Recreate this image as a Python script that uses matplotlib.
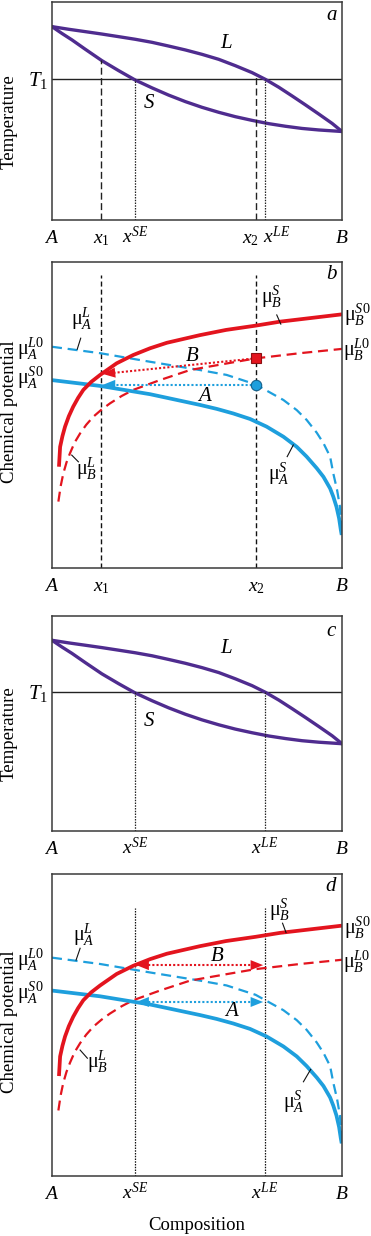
import numpy as np
import matplotlib
matplotlib.use('Agg')
import matplotlib.pyplot as plt

plt.rcParams['font.family'] = ['Liberation Serif', 'DejaVu Serif']
plt.rcParams['mathtext.fontset'] = 'custom'
plt.rcParams['mathtext.rm'] = 'Liberation Serif'
plt.rcParams['mathtext.it'] = 'Liberation Serif:italic'
plt.rcParams['mathtext.bf'] = 'Liberation Serif:bold'

# ---------------- data (normalised composition 0=A .. 1=B) ----------------
liq_x = [0.0, 0.057, 0.115, 0.172, 0.230, 0.287, 0.345, 0.402, 0.460, 0.517, 0.575,
         0.632, 0.690, 0.736, 0.782, 0.828, 0.874, 0.920, 0.966, 1.0]
liq_T = [0.887, 0.875, 0.864, 0.853, 0.841, 0.829, 0.815, 0.798, 0.780, 0.760, 0.737,
         0.708, 0.676, 0.645, 0.609, 0.569, 0.528, 0.486, 0.443, 0.406]
sol_x = [0.0, 0.034, 0.069, 0.115, 0.172, 0.230, 0.287, 0.345, 0.402, 0.460, 0.517,
         0.575, 0.632, 0.690, 0.747, 0.805, 0.862, 0.920, 1.0]
sol_T = [0.887, 0.856, 0.826, 0.783, 0.731, 0.685, 0.642, 0.606, 0.573, 0.543, 0.517,
         0.494, 0.474, 0.457, 0.442, 0.430, 0.420, 0.413, 0.406]
T1 = 0.645

x1, xSE, x2, xLE = 0.170, 0.286, 0.705, 0.733

muBS_x = [0.024, 0.028, 0.036, 0.045, 0.058, 0.073, 0.090, 0.108, 0.135, 0.166, 0.223,
          0.280, 0.338, 0.396, 0.510, 0.600, 0.702, 0.786, 1.0]
muBS_y = [0.331, 0.396, 0.431, 0.462, 0.496, 0.527, 0.556, 0.582, 0.608, 0.631, 0.669,
          0.696, 0.718, 0.736, 0.761, 0.778, 0.792, 0.805, 0.829]
muBL_x = [0.022, 0.030, 0.039, 0.050, 0.062, 0.078, 0.097, 0.118, 0.142, 0.170, 0.200,
          0.240, 0.280, 0.372, 0.476, 0.600, 0.702, 0.855, 1.0]
muBL_y = [0.217, 0.268, 0.309, 0.345, 0.375, 0.410, 0.440, 0.468, 0.494, 0.517, 0.538,
          0.562, 0.582, 0.614, 0.647, 0.668, 0.685, 0.702, 0.716]
muAS_x = [0.0, 0.166, 0.338, 0.510, 0.568, 0.625, 0.683, 0.740, 0.798, 0.844, 0.878,
          0.913, 0.936, 0.959, 0.970, 0.981, 0.990, 0.996, 0.999]
muAS_y = [0.614, 0.595, 0.568, 0.533, 0.520, 0.505, 0.487, 0.462, 0.429, 0.396, 0.364,
          0.326, 0.298, 0.260, 0.233, 0.200, 0.162, 0.124, 0.108]
muAL_x = [0.0, 0.166, 0.338, 0.510, 0.602, 0.702, 0.798, 0.844, 0.878, 0.913, 0.936,
          0.959, 0.970, 0.983, 0.993, 1.0]
muAL_y = [0.723, 0.702, 0.674, 0.647, 0.631, 0.600, 0.549, 0.516, 0.484, 0.442, 0.408,
          0.364, 0.309, 0.255, 0.200, 0.105]

PURPLE = '#4F2C8F'
RED = '#E3141E'
BLUE = '#1E9FDD'
FRAME = '#3a3a3a'

W, H = 371, 1236
fig = plt.figure(figsize=(W / 100, H / 100), dpi=100)


def add_axes(top, bottom):
    ax = fig.add_axes([52 / W, 1 - bottom / H, 290 / W, (bottom - top) / H])
    ax.set_xlim(0, 1)
    ax.set_ylim(0, 1)
    ax.set_xticks([])
    ax.set_yticks([])
    for s in ax.spines.values():
        s.set_color(FRAME)
        s.set_linewidth(1.1)
    return ax


axa = add_axes(2, 220)
axb = add_axes(262, 568)
axc = add_axes(616, 831)
axd = add_axes(874, 1176)

TICKFS = 14
MUFS = 14.5
LETFS = 15


def xlabels(ax, pos, labels, aligns=None, shifts=None):
    for i, (p, l) in enumerate(zip(pos, labels)):
        ha = aligns[i] if aligns else 'center'
        dx = shifts[i] if shifts else 0
        ax.annotate(l, xy=(p, 0), xycoords=('data', 'axes fraction'),
                    xytext=(dx, -16.5), textcoords='offset points',
                    ha=ha, va='baseline', fontsize=TICKFS)


def mu(sub, sup):
    return r'$\mathrm{μ}_{%s}^{%s}$' % (sub, sup)


def tdiagram(ax, dashed, dotted, Lpos, Spos, letter, letpos):
    ax.axhline(T1, color='#222222', lw=1.0)
    ax.plot(liq_x, liq_T, color=PURPLE, lw=2.4, solid_joinstyle='round', solid_capstyle='round')
    ax.plot(sol_x, sol_T, color=PURPLE, lw=2.4, solid_joinstyle='round', solid_capstyle='round')
    for xv, top in dashed:
        ax.plot([xv, xv], [0, top], color='#222222', lw=1.0, dashes=(5, 2.5))
    for xv in dotted:
        ax.plot([xv, xv], [0, T1], color='#222222', lw=0.9, dashes=(1.2, 1.0))
    ax.text(Lpos[0], Lpos[1], r'$L$', fontsize=LETFS, ha='center', va='center')
    ax.text(Spos[0], Spos[1], r'$S$', fontsize=LETFS, ha='center', va='center')
    ax.text(letpos[0], letpos[1], r'$%s$' % letter, fontsize=LETFS, ha='center', va='center')
    ax.annotate(r'$T_1$', xy=(-0.048, T1), xycoords=('axes fraction', 'data'),
                xytext=(0, -4.5), textcoords='offset points',
                ha='center', va='baseline', fontsize=LETFS)
    ax.text(-0.148, 0.452, 'Temperature', rotation=90, fontsize=13.5,
            ha='center', va='center', transform=ax.transAxes)


def arrowhead(ax, tip, frm, color):
    ax.annotate('', xy=tip, xytext=frm,
                arrowprops=dict(arrowstyle='-|>,head_length=0.6,head_width=0.24',
                                color=color, lw=0, shrinkA=0, shrinkB=0,
                                mutation_scale=15))


def mupanel(ax, vlines, vtop, vstyle, labels):
    ax.plot(muAL_x, muAL_y, color=BLUE, lw=1.6, dashes=(4.5, 2.6))
    ax.plot(muBL_x, muBL_y, color=RED, lw=1.6, dashes=(4.5, 2.6))
    ax.plot(muAS_x, muAS_y, color=BLUE, lw=2.7, solid_capstyle='butt', solid_joinstyle='round')
    ax.plot(muBS_x, muBS_y, color=RED, lw=2.7, solid_capstyle='butt', solid_joinstyle='round')
    for xv in vlines:
        if vstyle == 'dash':
            ax.plot([xv, xv], [0, vtop], color='#111111', lw=1.0, dashes=(3.6, 2.2), zorder=1)
        else:
            ax.plot([xv, xv], [0, vtop], color='#111111', lw=0.9, dashes=(1.2, 1.0), zorder=1)
    for (txt, tx, ty, lead) in labels:
        ax.text(tx, ty, txt, fontsize=MUFS, ha='center', va='center')
        if lead is not None:
            ax.plot([lead[0], lead[2]], [lead[1], lead[3]], color='#111111', lw=0.8)
    ax.text(-0.148, 0.51, 'Chemical potential', rotation=90, fontsize=13.5,
            ha='center', va='center', transform=ax.transAxes)


# ---------------- panel a ----------------
tdiagram(axa,
         dashed=[(x1, float(np.interp(x1, sol_x, sol_T))), (x2, float(np.interp(x2, liq_x, liq_T)))],
         dotted=[xSE, xLE], Lpos=(0.603, 0.81), Spos=(0.333, 0.535),
         letter='a', letpos=(0.964, 0.94))
xlabels(axa, [0, x1, xSE, x2, xLE, 1],
        [r'$A$', r'$x_1$', r'$x^{SE}$', r'$x_2$', r'$x^{LE}$', r'$B$'],
        aligns=['center', 'center', 'center', 'right', 'left', 'center'],
        shifts=[0, 0, 0, 1.5, -1.0, 0])

# ---------------- panel b ----------------
L0 = r'L\mathrm{0}'
S0 = r'S\mathrm{0}'
mupanel(axb, [x1, x2], 0.958, 'dash', [
    (mu('A', 'L'), 0.104, 0.816, (0.099, 0.751, 0.087, 0.715)),
    (mu('A', L0), -0.074, 0.718, None),
    (mu('A', S0), -0.074, 0.622, None),
    (mu('B', 'S'), 0.757, 0.887, (0.775, 0.827, 0.789, 0.797)),
    (mu('B', S0), 1.052, 0.829, None),
    (mu('B', L0), 1.052, 0.713, None),
    (mu('B', 'L'), 0.118, 0.326, (0.068, 0.369, 0.091, 0.347)),
    (mu('A', 'S'), 0.782, 0.309, (0.811, 0.364, 0.832, 0.402)),
])
yBL2 = float(np.interp(x2, muBL_x, muBL_y))
yBS1 = float(np.interp(x1, muBS_x, muBS_y))
yAL2 = float(np.interp(x2, muAL_x, muAL_y))
slope = (yBL2 - yBS1) / (x2 - x1)
axb.plot([x2, x1 + 0.03], [yBL2, yBS1 + slope * 0.03], color=RED, lw=1.5, dashes=(1, 1))
arrowhead(axb, (x1 + 0.005, yBS1 + slope * 0.005), (x1 + 0.06, yBS1 + slope * 0.06), RED)
axb.plot([x2, x1 + 0.03], [yAL2, yAL2], color=BLUE, lw=1.5, dashes=(1, 1))
arrowhead(axb, (x1 + 0.005, yAL2), (x1 + 0.06, yAL2), BLUE)
axb.plot([x2], [yAL2], 'o', ms=7.5, mfc=BLUE, mec='#14618c', mew=0.8, zorder=5)
axb.plot([x2], [yBL2], 's', ms=6.5, mfc=RED, mec='#8c0f12', mew=0.8, zorder=5)
axb.text(0.482, 0.690, r'$B$', fontsize=LETFS, ha='center', va='center')
axb.text(0.528, 0.560, r'$A$', fontsize=LETFS, ha='center', va='center')
axb.text(0.964, 0.958, r'$b$', fontsize=LETFS, ha='center', va='center')
xlabels(axb, [0, x1, x2, 1], [r'$A$', r'$x_1$', r'$x_2$', r'$B$'])

# ---------------- panel c ----------------
tdiagram(axc, dashed=[], dotted=[xSE, xLE], Lpos=(0.603, 0.85), Spos=(0.333, 0.508),
         letter='c', letpos=(0.964, 0.93))
xlabels(axc, [0, xSE, xLE, 1], [r'$A$', r'$x^{SE}$', r'$x^{LE}$', r'$B$'])

# ---------------- panel d ----------------
mupanel(axd, [xSE, xLE], 0.887, 'dot', [
    (mu('A', 'L'), 0.110, 0.798, (0.097, 0.754, 0.083, 0.715)),
    (mu('A', L0), -0.074, 0.715, None),
    (mu('A', S0), -0.074, 0.607, None),
    (mu('B', 'S'), 0.786, 0.881, (0.795, 0.837, 0.807, 0.806)),
    (mu('B', S0), 1.052, 0.822, None),
    (mu('B', L0), 1.052, 0.710, None),
    (mu('B', 'L'), 0.156, 0.378, (0.097, 0.417, 0.122, 0.390)),
    (mu('A', 'S'), 0.834, 0.246, (0.867, 0.312, 0.892, 0.353)),
])
yR = float(np.interp(xSE, muBS_x, muBS_y))
yB = float(np.interp(xSE, muAS_x, muAS_y))
for yv, col in [(yR, RED), (yB, BLUE)]:
    axd.plot([xSE + 0.03, xLE - 0.03], [yv, yv], color=col, lw=1.5, dashes=(1, 1))
    arrowhead(axd, (xSE + 0.005, yv), (xSE + 0.06, yv), col)
    arrowhead(axd, (xLE - 0.005, yv), (xLE - 0.06, yv), col)
axd.text(0.568, 0.726, r'$B$', fontsize=LETFS, ha='center', va='center')
axd.text(0.620, 0.545, r'$A$', fontsize=LETFS, ha='center', va='center')
axd.text(0.964, 0.958, r'$d$', fontsize=LETFS, ha='center', va='center')
xlabels(axd, [0, xSE, xLE, 1], [r'$A$', r'$x^{SE}$', r'$x^{LE}$', r'$B$'])

fig.text(196.5 / W, 1 - 1225 / H, 'Composition', fontsize=13.5, ha='center', va='center')

fig.savefig('out.png', dpi=100)
